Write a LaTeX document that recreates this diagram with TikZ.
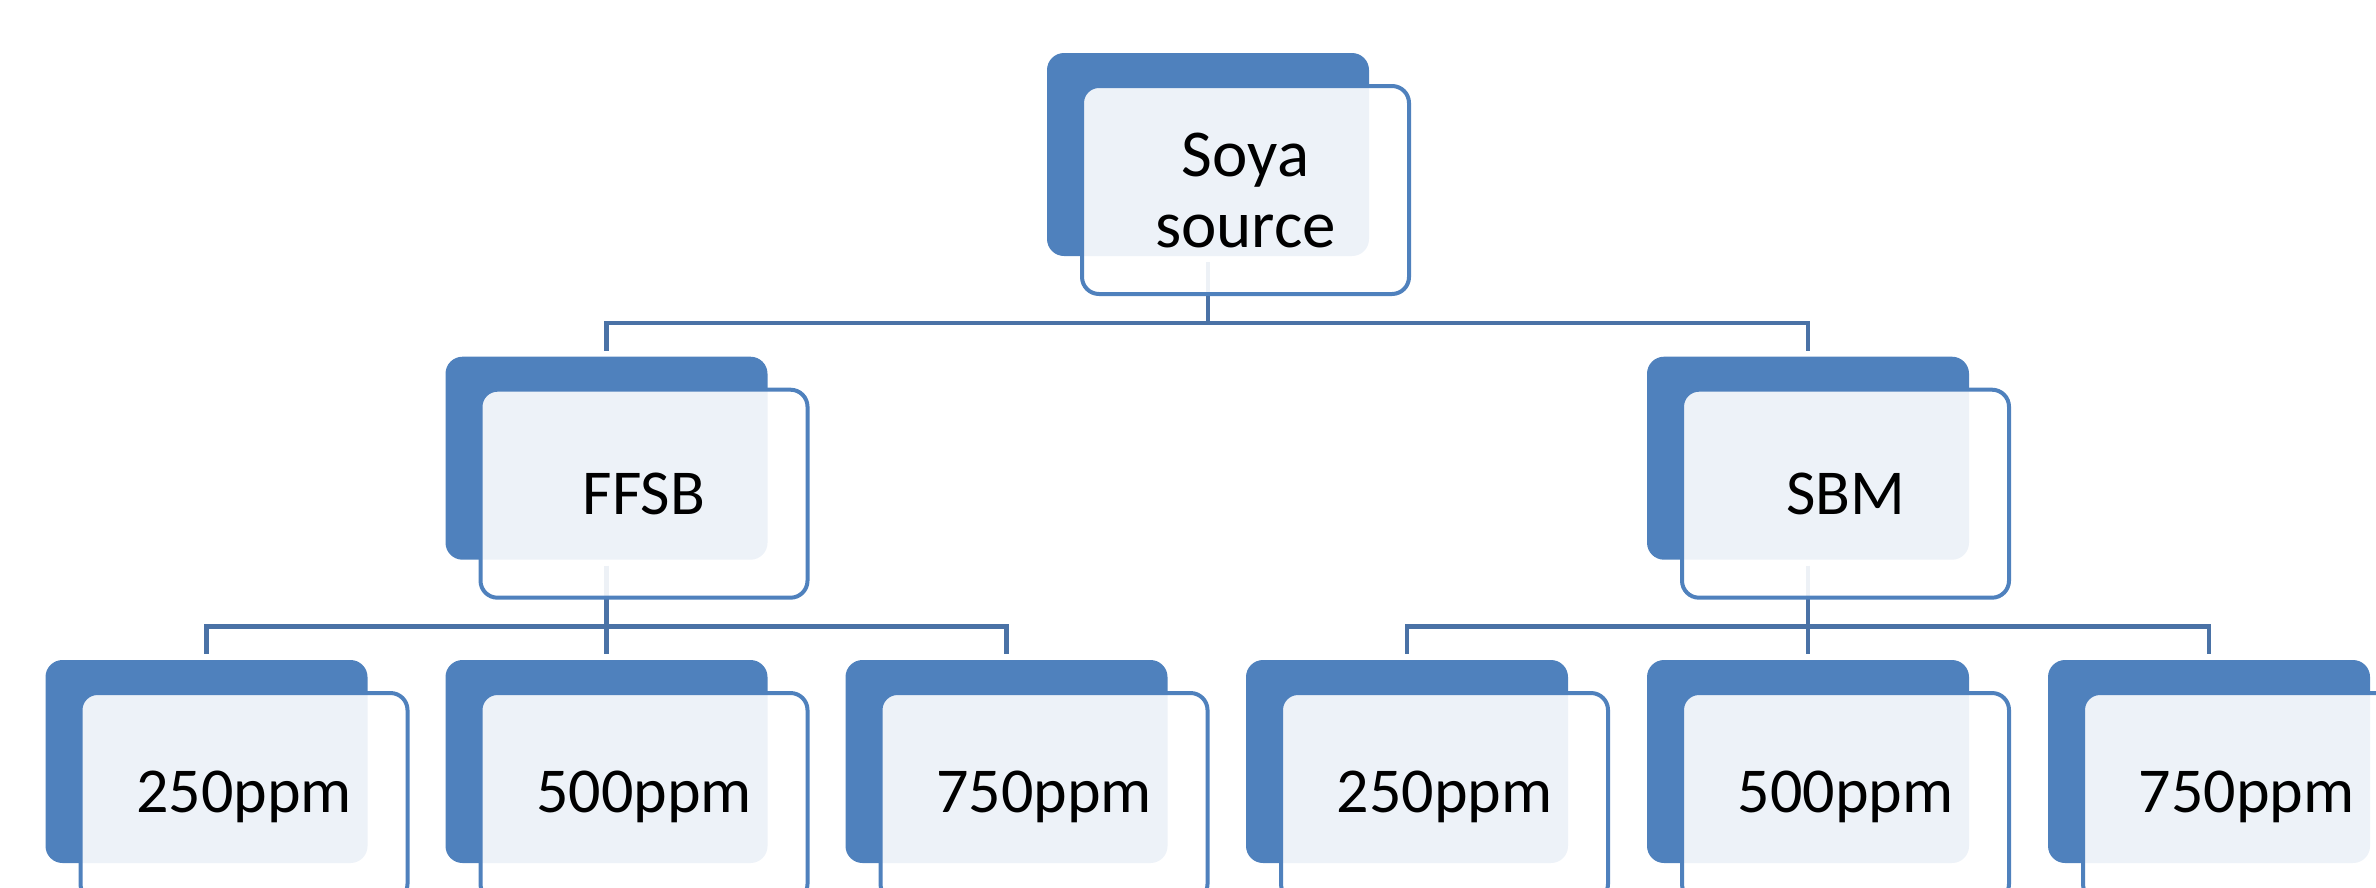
\documentclass[tikz,border=0pt]{standalone}
\usepackage{fontspec}
\setmainfont{Carlito}
\definecolor{darkbox}{HTML}{4F81BD}
\definecolor{frameblue}{HTML}{4F81BD}
\definecolor{connblue}{HTML}{4A72A6}
\begin{document}
\begin{tikzpicture}[x=1pt,y=-1pt,
  backbox/.style={rectangle, rounded corners=17pt, fill=darkbox, draw=none,
    minimum width=322pt, minimum height=203pt, inner sep=0pt, outer sep=0pt, anchor=north west},
  frontbox/.style={rectangle, rounded corners=17pt, fill=white, fill opacity=0.9, text opacity=1,
    draw=frameblue, draw opacity=1, line width=4pt, minimum width=327pt, minimum height=208pt,
    inner sep=0pt, outer sep=0pt, anchor=north west, align=center, text=black},
  toptext/.style={font=\fontsize{67}{71}\selectfont},
  subtext/.style={font=\fontsize{64}{66}\selectfont},
  conn/.style={draw=connblue, line width=4.5pt}]
\useasboundingbox (0,0) rectangle (2376,887);
\clip (0,0) rectangle (2376,887);
% back boxes
\node[backbox] (tB) at (1047,53) {};
\node[backbox] (aB) at (445.5,356.7) {};
\node[backbox] (bB) at (1647,356.7) {};
\node[backbox] (a1B) at (45.5,660) {};
\node[backbox] (a2B) at (445.5,660) {};
\node[backbox] (a3B) at (845.5,660) {};
\node[backbox] (b1B) at (1246,660) {};
\node[backbox] (b2B) at (1647,660) {};
\node[backbox] (b3B) at (2048,660) {};
% connectors
\draw[conn] ([yshift=-6pt]tB.south) -- ++(0,61) coordinate (tbus);
\draw[conn] (tbus) -| ([yshift=6pt]aB.north);
\draw[conn] (tbus) -| ([yshift=6pt]bB.north);
\draw[conn] ([yshift=-6pt]aB.south) -- ++(0,61) coordinate (abus);
\draw[conn] (abus) -| ([yshift=6pt]a1B.north);
\draw[conn] (abus) -- ([yshift=6pt]a2B.north);
\draw[conn] (abus) -| ([yshift=6pt]a3B.north);
\draw[conn] ([yshift=-6pt]bB.south) -- ++(0,61) coordinate (bbus);
\draw[conn] (bbus) -| ([yshift=6pt]b1B.north);
\draw[conn] (bbus) -- ([yshift=6pt]b2B.north);
\draw[conn] (bbus) -| ([yshift=6pt]b3B.north);
% front boxes
\node[frontbox, toptext] (tF) at ([xshift=35pt,yshift=-33pt]tB.north west) {Soya\\source};
\node[frontbox, subtext] (aF) at ([xshift=35pt,yshift=-33pt]aB.north west) {FFSB};
\node[frontbox, subtext] (bF) at ([xshift=35pt,yshift=-33pt]bB.north west) {SBM};
\node[frontbox, subtext] (a1F) at ([xshift=35pt,yshift=-33pt]a1B.north west) {250ppm};
\node[frontbox, subtext] (a2F) at ([xshift=35pt,yshift=-33pt]a2B.north west) {500ppm};
\node[frontbox, subtext] (a3F) at ([xshift=35pt,yshift=-33pt]a3B.north west) {750ppm};
\node[frontbox, subtext] (b1F) at ([xshift=35pt,yshift=-33pt]b1B.north west) {250ppm};
\node[frontbox, subtext] (b2F) at ([xshift=35pt,yshift=-33pt]b2B.north west) {500ppm};
\node[frontbox, subtext] (b3F) at ([xshift=35pt,yshift=-33pt]b3B.north west) {750ppm};
\end{tikzpicture}
\end{document}
